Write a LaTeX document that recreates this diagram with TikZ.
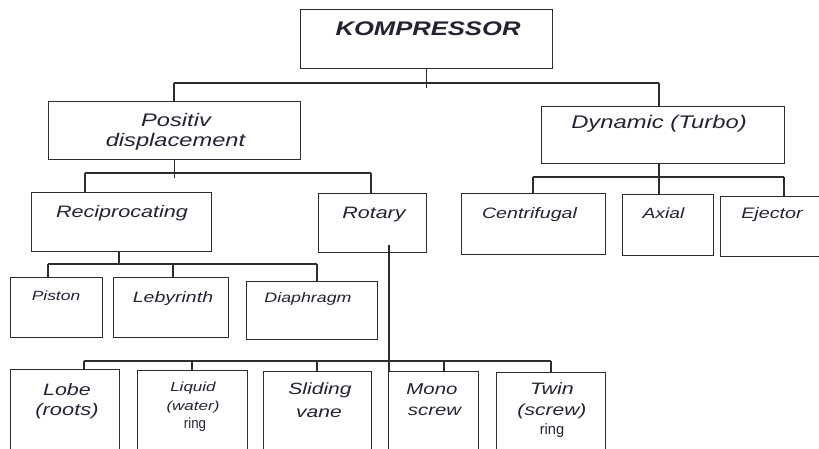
\documentclass[tikz,border=0pt]{standalone}
\usepackage{fontspec}
\setmainfont{Liberation Sans}[FakeStretch=1.3]
\definecolor{linecol}{RGB}{45,45,45}
\definecolor{txtcol}{RGB}{35,35,50}
\newcommand{\fsz}[1]{\fontsize{#1}{#1}\selectfont}

\tikzset{
  box/.style 2 args={draw=linecol,line width=1.1pt,rectangle,inner sep=0pt,
    anchor=north west,minimum width=#1,minimum height=#2},
  lbl/.style={anchor=base,inner sep=0pt,text=txtcol,font=\itshape\fsz{#1}},
  plain/.style={anchor=base,inner sep=0pt,text=txtcol,font=\fsz{#1}},
  link/.style={draw=linecol,line width=1.1pt}
}

\begin{document}
\begin{tikzpicture}[x=1pt,y=-1pt]
  \useasboundingbox (0,0) rectangle (819,448);
  \clip (0,0) rectangle (819,448);

  % boxes
  \node[box={252}{59}] (komp) at (300,9) {};
  \node[box={252}{58}] (pos) at (48,101) {};
  \node[box={243}{57}] (dyn) at (541,106) {};
  \node[box={180}{59}] (recip) at (31,192) {};
  \node[box={108}{59}] (rot) at (318,193) {};
  \node[box={144}{61}] (cent) at (461,193) {};
  \node[box={91}{61}] (axial) at (622,194) {};
  \node[box={110}{60}] (eject) at (720,196) {};
  \node[box={92}{60}] (piston) at (10,277) {};
  \node[box={115}{60}] (leby) at (113,277) {};
  \node[box={131}{58}] (diaph) at (246,281) {};
  \node[box={109}{100}] (lobe) at (10,369) {};
  \node[box={110}{100}] (liquid) at (137,370) {};
  \node[box={108}{100}] (slide) at (263,371) {};
  \node[box={90}{100}] (mono) at (388,371) {};
  \node[box={109}{100}] (twin) at (496,372) {};

  % texts
  \node[lbl=19.7,font=\bfseries\itshape\fsz{19.7}] (kompT) at (428,35) {KOMPRESSOR};
  \node[lbl=18.2] (posA) at (176,126) {Positiv};
  \node[lbl=18.2] (posB) at (175.5,146) {displacement};
  \node[lbl=18.3] (dynT) at (659,128) {Dynamic (Turbo)};
  \node[lbl=16.6] (recT) at (122,217) {Reciprocating};
  \node[lbl=16.5] (rotT) at (374,218) {Rotary};
  \node[lbl=15.1] (cenT) at (529.5,218) {Centrifugal};
  \node[lbl=14.8] (axT) at (663.5,218) {Axial};
  \node[lbl=15.2] (ejT) at (772,218) {Ejector};
  \node[lbl=13.4] (pisT) at (56,300) {Piston};
  \node[lbl=15] (lebT) at (173,302) {Lebyrinth};
  \node[lbl=13.7] (diaT) at (308,302) {Diaphragm};
  \node[lbl=16.5] (lobA) at (67,395) {Lobe};
  \node[lbl=16.8] (lobB) at (67,415) {(roots)};
  \node[lbl=13.1] (liqA) at (193,391) {Liquid};
  \node[lbl=13.1] (liqB) at (193,410) {(water)};
  \node[plain=15] (liqC) at (195,428) {\scalebox{0.68}[1]{ring}};
  \node[lbl=16.2] (sliA) at (320,394) {Sliding};
  \node[lbl=16.2] (sliB) at (319,417) {vane};
  \node[lbl=15.7] (monA) at (432,394) {Mono};
  \node[lbl=15.7] (monB) at (434.5,415) {screw};
  \node[lbl=16.5] (twA) at (552,394) {Twin};
  \node[lbl=16.2] (twB) at (552,415) {(screw)};
  \node[plain=15] (twC) at (552,434) {\scalebox{0.75}[1]{ring}};

  % top level
  \coordinate (k1) at (174,83);
  \coordinate (k2) at (659,83);
  \draw[link] (komp.south) -- ++(0,19);
  \draw[link] (k1) -- (k2);
  \draw[link] (k1) -- (k1 |- pos.north);
  \draw[link] (k2) -- (k2 |- dyn.north);

  % positive displacement
  \coordinate (p1) at (85,173);
  \coordinate (p2) at (371,173);
  \draw[link] (pos.south) -- ++(0,18);
  \draw[link] (p1) -- (p2);
  \draw[link] (p1) -- (p1 |- recip.north);
  \draw[link] (p2) -- (p2 |- rot.north);

  % dynamic
  \coordinate (d1) at (533,177);
  \coordinate (d2) at (784,177);
  \coordinate (d3) at (659,177);
  \draw[link] (d1) -- (d2);
  \draw[link] (d3 |- dyn.south) -- (d3 |- axial.north);
  \draw[link] (d1) -- (d1 |- cent.north);
  \draw[link] (d2) -- (d2 |- eject.north);

  % reciprocating
  \coordinate (r0) at (119,264);
  \coordinate (r1) at (48,264);
  \coordinate (r2) at (173,264);
  \coordinate (r3) at (317,264);
  \draw[link] (r0 |- recip.south) -- (r0);
  \draw[link] (r1) -- (r3);
  \foreach \c/\n in {r1/piston,r2/leby,r3/diaph}
    \draw[link] (\c) -- (\c |- \n.north);

  % rotary
  \coordinate (q0) at (389,245);
  \coordinate (q1) at (84,361);
  \coordinate (q2) at (192,361);
  \coordinate (q3) at (317,361);
  \coordinate (q4) at (444,361);
  \coordinate (q5) at (551,361);
  \draw[link] (q0) -- (q0 |- mono.north);
  \draw[link] (q1) -- (q5);
  \foreach \c/\n in {q1/lobe,q2/liquid,q3/slide,q4/mono,q5/twin}
    \draw[link] (\c) -- (\c |- \n.north);
\end{tikzpicture}
\end{document}
